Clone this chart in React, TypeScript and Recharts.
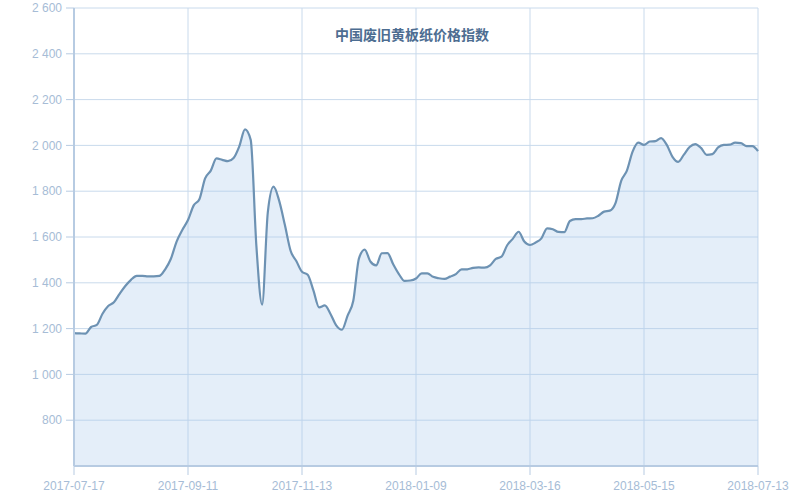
import React from 'react';
import { AreaChart, Area, XAxis, YAxis, CartesianGrid } from 'recharts';

const tickLabels = ['2017-07-17', '2017-09-11', '2017-11-13', '2018-01-09', '2018-03-16', '2018-05-15', '2018-07-13'];
const tickIndex = [0, 20, 40, 60, 80, 100, 120];
const yTicks = [800, 1000, 1200, 1400, 1600, 1800, 2000, 2200, 2400, 2600];

const prices = [
  1180, 1179, 1178, 1207, 1216, 1265, 1299, 1315, 1352, 1386,
  1413, 1430, 1430, 1428, 1428, 1430, 1459, 1505, 1580, 1631,
  1674, 1738, 1765, 1856, 1890, 1943, 1937, 1931, 1945, 1996,
  2070, 2024, 1560, 1305, 1707, 1820, 1758, 1652, 1540, 1495,
  1448, 1435, 1367, 1293, 1301, 1264, 1214, 1195, 1257, 1322,
  1507, 1545, 1493, 1476, 1529, 1530, 1481, 1438, 1408, 1410,
  1419, 1441, 1441, 1426, 1420, 1417, 1427, 1438, 1459, 1459,
  1465, 1467, 1466, 1476, 1504, 1514, 1564, 1593, 1623, 1580,
  1565, 1576, 1594, 1638, 1634, 1622, 1621, 1670, 1678, 1678,
  1681, 1682, 1693, 1711, 1715, 1748, 1845, 1890, 1973, 2012,
  2002, 2017, 2019, 2032, 2002, 1950, 1928, 1960, 1993, 2006,
  1989, 1959, 1962, 1991, 2002, 2003, 2012, 2010, 1997, 1997,
  1975,
];

const data = prices.map((p, i) => ({ i, p }));

const fmtY = (v: number) =>
  v >= 1000 ? `${Math.floor(v / 1000)} ${String(v % 1000).padStart(3, '0')}` : String(v);
const fmtX = (v: number) => {
  const k = tickIndex.indexOf(v);
  return k >= 0 ? tickLabels[k] : '';
};

const labelStyle = { fill: '#a6bcd6', fontSize: 12, fontFamily: '"Liberation Sans", Arial, sans-serif' };

export default function App() {
  return (
    <div style={{ position: 'relative', width: 800, height: 500, background: '#fff' }}>
      <style>{'body{margin:0}'}</style>
      <AreaChart width={800} height={500} data={data} margin={{ top: 8, right: 42, bottom: 4, left: 0 }}>
        <CartesianGrid stroke="#c9daec" strokeWidth={1} vertical={true} horizontal={true} />
        <XAxis
          dataKey="i"
          type="number"
          domain={[0, 120]}
          ticks={tickIndex}
          tickFormatter={fmtX}
          height={30}
          tick={labelStyle}
          tickSize={9}
          tickMargin={6}
          axisLine={{ stroke: '#b7cbe2', strokeWidth: 2 }}
          tickLine={{ stroke: '#b7cbe2' }}
        />
        <YAxis
          type="number"
          domain={[600, 2600]}
          ticks={yTicks}
          tickFormatter={fmtY}
          width={74}
          tick={labelStyle}
          tickSize={8}
          tickMargin={4}
          axisLine={{ stroke: '#b7cbe2', strokeWidth: 2 }}
          tickLine={{ stroke: '#b7cbe2' }}
        />
        <Area
          type="monotone"
          dataKey="p"
          stroke="#6d92b3"
          strokeWidth={2.2}
          fill="#a7c7ea"
          fillOpacity={0.3}
          isAnimationActive={false}
          dot={false}
          activeDot={false}
        />
      </AreaChart>
      <div
        style={{
          position: 'absolute',
          left: 335,
          top: 25,
          fontSize: 14,
          lineHeight: '18px',
          fontWeight: 'bold',
          color: '#4d6d91',
          fontFamily: '"Noto Sans CJK SC", sans-serif',
          whiteSpace: 'nowrap',
        }}
      >
        中国废旧黄板纸价格指数
      </div>
    </div>
  );
}
